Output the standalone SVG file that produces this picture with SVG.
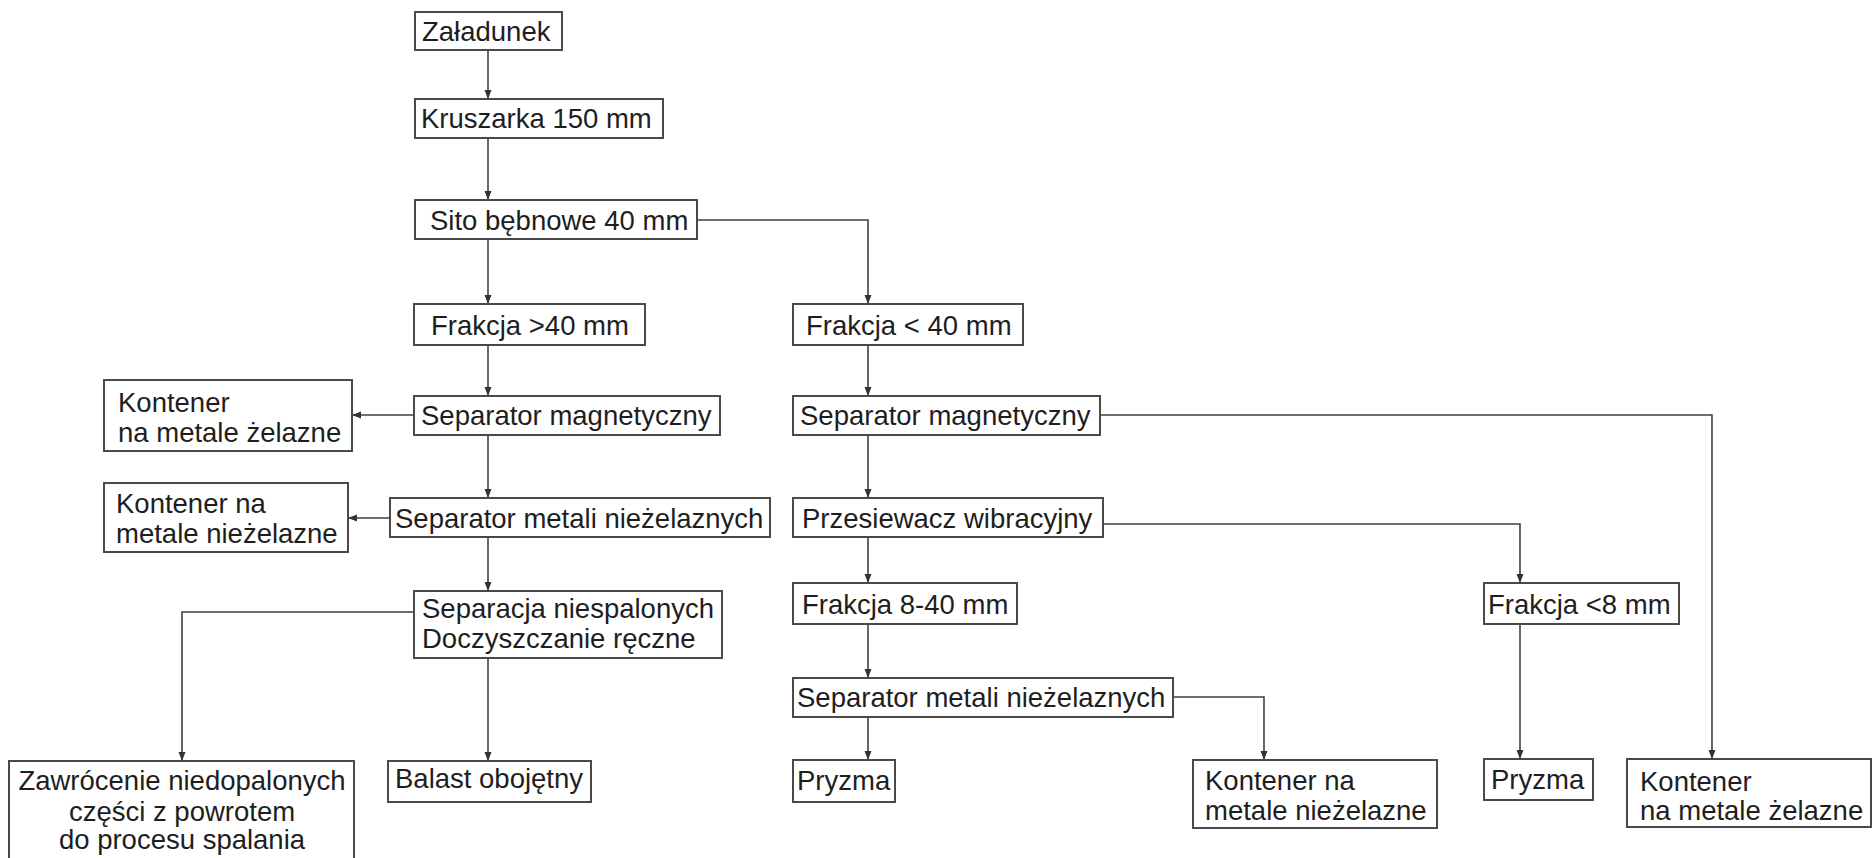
<svg xmlns="http://www.w3.org/2000/svg" width="1872" height="858" viewBox="0 0 1872 858">
<style>
.box{fill:#fff;stroke:#4a4a4a;stroke-width:2}
.t{font-family:"Liberation Sans",Arial,sans-serif;font-size:27.5px;fill:#1e1e1e}
.c{text-anchor:middle}
.ln{fill:none;stroke:#404040;stroke-width:1.6}
</style>
<defs>
<marker id="ah" markerUnits="userSpaceOnUse" markerWidth="10" markerHeight="8" refX="9" refY="3.5" orient="auto">
<path d="M0,0 L9,3.5 L0,7 z" fill="#333"/>
</marker>
</defs>
<rect width="1872" height="858" fill="#fff"/>
<g id="connectors" class="ln" marker-end="url(#ah)">
<path class="ln" marker-end="url(#ah)" d="M488,50 V99"/>
<path class="ln" marker-end="url(#ah)" d="M488,138 V200"/>
<path class="ln" marker-end="url(#ah)" d="M488,239 V304"/>
<path class="ln" marker-end="url(#ah)" d="M697,220 H868 V304"/>
<path class="ln" marker-end="url(#ah)" d="M488,345 V396"/>
<path class="ln" marker-end="url(#ah)" d="M414,415 H352"/>
<path class="ln" marker-end="url(#ah)" d="M488,435 V498"/>
<path class="ln" marker-end="url(#ah)" d="M390,518 H348"/>
<path class="ln" marker-end="url(#ah)" d="M488,537 V591"/>
<path class="ln" marker-end="url(#ah)" d="M414,612 H182 V761"/>
<path class="ln" marker-end="url(#ah)" d="M488,658 V761"/>
<path class="ln" marker-end="url(#ah)" d="M868,345 V396"/>
<path class="ln" marker-end="url(#ah)" d="M1100,415 H1712 V759"/>
<path class="ln" marker-end="url(#ah)" d="M868,435 V498"/>
<path class="ln" marker-end="url(#ah)" d="M1103,524 H1520 V583"/>
<path class="ln" marker-end="url(#ah)" d="M868,537 V583"/>
<path class="ln" marker-end="url(#ah)" d="M868,624 V678"/>
<path class="ln" marker-end="url(#ah)" d="M1173,697 H1264 V760"/>
<path class="ln" marker-end="url(#ah)" d="M868,717 V760"/>
<path class="ln" marker-end="url(#ah)" d="M1520,624 V759"/>
</g>
<g id="zaladunek"><rect class="box" x="415" y="12" width="147" height="38"/><text class="t" x="422" y="41">Załadunek</text></g>
<g id="kruszarka"><rect class="box" x="415" y="99" width="248" height="39"/><text class="t" x="421" y="128">Kruszarka 150 mm</text></g>
<g id="sito"><rect class="box" x="415" y="200" width="282" height="39"/><text class="t" x="430" y="230">Sito bębnowe 40 mm</text></g>
<g id="frakcja-gt40"><rect class="box" x="414" y="304" width="231" height="41"/><text class="t" x="431" y="335">Frakcja &gt;40 mm</text></g>
<g id="sep-mag-l"><rect class="box" x="414" y="396" width="306" height="39"/><text class="t" x="421" y="425">Separator magnetyczny</text></g>
<g id="kontener-l1"><rect class="box" x="104" y="380" width="248" height="71"/><text class="t" x="118" y="412">Kontener</text><text class="t" x="118" y="442">na metale żelazne</text></g>
<g id="sep-met-l"><rect class="box" x="390" y="498" width="380" height="39"/><text class="t" x="395" y="528">Separator metali nieżelaznych</text></g>
<g id="kontener-l2"><rect class="box" x="104" y="483" width="244" height="69"/><text class="t" x="116" y="513">Kontener na</text><text class="t" x="116" y="543">metale nieżelazne</text></g>
<g id="separacja"><rect class="box" x="414" y="591" width="308" height="67"/><text class="t" x="422" y="618">Separacja niespalonych</text><text class="t" x="422" y="648">Doczyszczanie ręczne</text></g>
<g id="zawrocenie"><rect class="box" x="9" y="761" width="345" height="110"/><text class="t c" x="182" y="790">Zawrócenie niedopalonych</text><text class="t c" x="182" y="821">części z powrotem</text><text class="t c" x="182" y="849">do procesu spalania</text></g>
<g id="balast"><rect class="box" x="388" y="761" width="203" height="41"/><text class="t" x="395" y="788">Balast obojętny</text></g>
<g id="frakcja-lt40"><rect class="box" x="793" y="304" width="230" height="41"/><text class="t" x="806" y="335">Frakcja &lt; 40 mm</text></g>
<g id="sep-mag-r"><rect class="box" x="793" y="396" width="307" height="39"/><text class="t" x="800" y="425">Separator magnetyczny</text></g>
<g id="przesiewacz"><rect class="box" x="793" y="498" width="310" height="39"/><text class="t" x="802" y="528">Przesiewacz wibracyjny</text></g>
<g id="frakcja-8-40"><rect class="box" x="793" y="583" width="224" height="41"/><text class="t" x="802" y="614">Frakcja 8-40 mm</text></g>
<g id="frakcja-lt8"><rect class="box" x="1484" y="583" width="195" height="41"/><text class="t" x="1488" y="614">Frakcja &lt;8 mm</text></g>
<g id="sep-met-r"><rect class="box" x="793" y="678" width="380" height="39"/><text class="t" x="797" y="707">Separator metali nieżelaznych</text></g>
<g id="pryzma-1"><rect class="box" x="793" y="760" width="102" height="42"/><text class="t" x="797" y="790">Pryzma</text></g>
<g id="kontener-r1"><rect class="box" x="1193" y="760" width="244" height="68"/><text class="t" x="1205" y="790">Kontener na</text><text class="t" x="1205" y="820">metale nieżelazne</text></g>
<g id="pryzma-2"><rect class="box" x="1484" y="759" width="109" height="41"/><text class="t" x="1491" y="789">Pryzma</text></g>
<g id="kontener-r2"><rect class="box" x="1627" y="759" width="244" height="68"/><text class="t" x="1640" y="791">Kontener</text><text class="t" x="1640" y="820">na metale żelazne</text></g>
</svg>
